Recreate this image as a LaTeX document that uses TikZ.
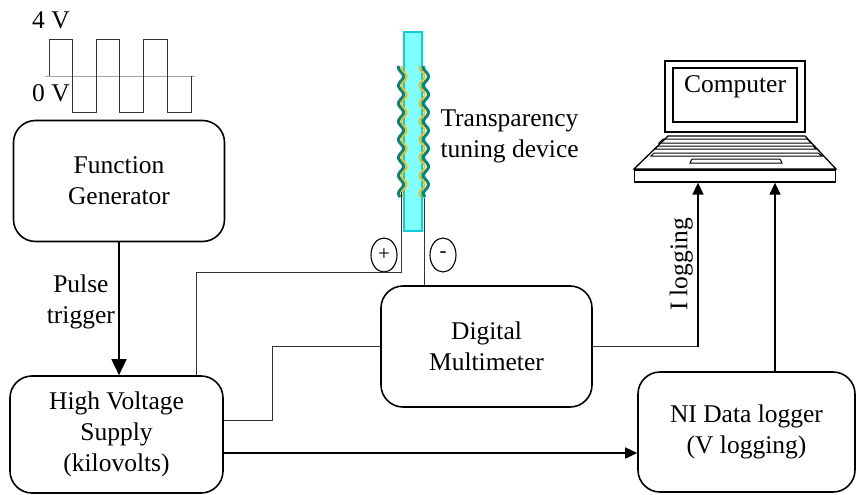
\documentclass[tikz,border=0pt]{standalone}
\usepackage{fontspec}
\setmainfont{Liberation Serif}
\usepackage{tikz}
\usetikzlibrary{arrows.meta, calc, positioning, shapes.geometric}
\definecolor{petrol}{HTML}{00857F}
\definecolor{gold}{HTML}{FFB400}
\definecolor{glas}{HTML}{80FFFF}
\definecolor{glasrand}{HTML}{10CCDD}
\definecolor{draht}{HTML}{333333}

\begin{document}
\begin{tikzpicture}[
    x=1pt, y=-1pt,
    every node/.style={font=\rmfamily\fontsize{25.5}{31}\selectfont},
    box/.style={draw, line width=1.6pt, rounded corners=22pt, align=center},
    wire/.style={draht, line width=0.9pt},
    arr/.style={line width=1.6pt, -{Triangle[length=12pt, width=11pt]}},
    pol/.style={draw, ellipse, line width=1.1pt, minimum width=26pt,
                minimum height=34pt, inner sep=0pt,
                font=\rmfamily\fontsize{21}{21}\selectfont},
  ]
  \useasboundingbox (0,0) rectangle (857,495);

  % Rechtecksignal
  \draw[gray!70, line width=0.8pt] (45,76) -- (195,76);
  \draw[draht, line width=0.9pt] (49,76) -- (49,39) -- (72,39) -- (72,112)
    -- (96,112) -- (96,39) -- (119,39) -- (119,112) -- (143,112) -- (143,39)
    -- (167,39) -- (167,112) -- (191,112) -- (191,76);
  \node[anchor=base west, inner sep=0pt] (v4) at (32,29) {4 V};
  \node[anchor=base west, inner sep=0pt] (v0) at (32,102) {0 V};

  % Geraete
  \node[box, minimum width=211pt, minimum height=121pt] (fg) at (119,181)
    {Function\\Generator};
  \node[box, minimum width=213pt, minimum height=117pt] (hv) at (116.5,434.5)
    {High Voltage\\Supply\\(kilovolts)};
  \node[box, minimum width=211pt, minimum height=121pt] (dm) at (486.5,346.5)
    {Digital\\Multimeter};
  \node[box, minimum width=217pt, minimum height=120pt] (ni) at (746.5,432)
    {NI Data logger\\(V logging)};

  % Element mit Elektroden
  \filldraw[fill=glas, draw=glasrand, line width=1.2pt] (404,32) rectangle (422,231);
  \foreach \xo/\xi in {401/404, 426/422} {
    \draw[petrol, line width=3pt, domain=66:197, samples=120, variable=\t]
      plot ({\xo+2.5*sin(\t*20)}, \t);
    \draw[gold, line width=1.8pt, domain=66:197, samples=120, variable=\t]
      plot ({\xi+2.5*sin(\t*20)}, \t);
  }
  \coordinate (pplus) at (401,192);
  \coordinate (pminus) at (424,198);
  \node[anchor=west, align=left] (dev) at (437,136)
    {Transparency\\tuning device};
  \node[pol] (plus) at (384,255) {+};
  \node[pol] (minus) at (443,255) {-};

  % Laptop
  \draw[line width=1.3pt] (665,61) rectangle (805,132);
  \draw[line width=1.3pt] (673,68) rectangle (797,122);
  \node (comp) at (735,87) {Computer};
  \draw[line width=1.3pt] (668,136) -- (805,136) -- (836,169) -- (634,169) -- cycle;
  \draw[line width=1pt] (663,139) -- (807,139) -- (811,143) -- (659,143) -- cycle;
  \draw[line width=1pt] (658,146) -- (813,146) -- (816,149) -- (655,149) -- cycle;
  \draw[line width=1pt] (654,153) -- (818,153) -- (822,156) -- (651,156) -- cycle;
  \draw[line width=1pt] (692,159) -- (780,159) -- (782,163) -- (690,163) -- cycle;
  \node[draw, line width=1.3pt, minimum width=201pt, minimum height=12pt,
        inner sep=0pt] (base) at (735,176) {};

  % Verbindungen
  \draw[arr, -{Triangle[length=16pt, width=15pt]}] (fg.south) -- (fg.south |- hv.north)
    node[pos=0.45, left, align=center] {Pulse\\trigger};
  \draw[wire] ([xshift=-27pt]hv.north east) -- ++(0,-103) -| (pplus);
  \draw[wire] (pminus) -- (pminus |- dm.north);
  \draw[wire] ([yshift=14.5pt]hv.east) -- ++(49,0) |- (dm.west);
  \coordinate (ilog) at ([xshift=-37pt]base.south);
  \coordinate (vlog) at ([xshift=40pt]base.south);
  \draw[wire] (dm.east) -- (dm.east -| ilog);
  \draw[arr] (dm.east -| ilog) -- (ilog)
    node[midway, sloped, above, yshift=1pt] {I logging};
  \draw[arr] (ni.north -| vlog) -- (vlog);
  \draw[arr] ([yshift=-18.5pt]hv.east) -- ([yshift=-18.5pt]hv.east -| ni.west);
\end{tikzpicture}
\end{document}
